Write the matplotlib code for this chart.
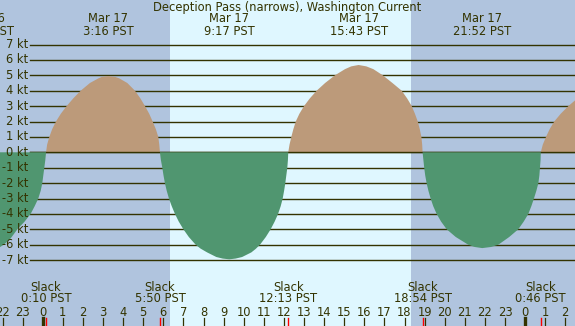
import numpy as np
import matplotlib
matplotlib.use('Agg')
import matplotlib.pyplot as plt

# hours from Mar 17 0:00 PST, current speed in knots (flood +, ebb -)
curve_t = [-3.2, -2.87, -2.5, -2.12, -1.93, -1.6, -1.23, -0.9, -0.6, -0.4, -0.22, -0.1, -0.02, 0.03, 0.08, 0.13, 0.167,
           0.22, 0.33, 0.47, 0.66, 0.9, 1.19, 1.52, 1.89, 2.35, 2.77, 2.95, 3.267, 3.6, 3.81, 4.21, 4.59,
           4.86, 5.09, 5.3, 5.47, 5.63, 5.75, 5.8, 5.833,
           5.88, 5.95, 6.01, 6.08, 6.17, 6.28, 6.42, 6.58, 6.77, 7.0, 7.27, 7.61, 7.85, 8.18, 8.64, 8.95,
           9.283, 9.6, 9.92, 10.38, 10.6, 10.81, 11.1, 11.34, 11.54, 11.71, 11.84, 11.94, 12.01, 12.07,
           12.12, 12.17, 12.2, 12.217,
           12.28, 12.37, 12.47, 12.59, 12.77, 13.0, 13.29, 13.63, 14.05, 14.54, 15.04, 15.35, 15.717,
           16.1, 16.45, 16.92, 17.4, 17.86, 18.13, 18.36, 18.52, 18.66, 18.76, 18.84, 18.88, 18.9,
           18.94, 18.98, 19.03, 19.1, 19.19, 19.3, 19.43, 19.6, 19.82, 20.1, 20.55, 21.17, 21.5, 21.867,
           22.3, 22.67, 23.21, 23.66, 23.93, 24.16, 24.31, 24.44, 24.56, 24.66, 24.71, 24.74, 24.77, 24.78,
           24.88, 25.04, 25.22, 25.45, 25.77, 26.15, 26.6, 27.0]
curve_kt = [-6.3, -6.35, -6.3, -6.15, -6.0, -5.6, -4.95, -4.5, -4.0, -3.5, -3.0, -2.5, -2.0, -1.5, -1.0, -0.5, 0.0,
            0.5, 1.0, 1.5, 2.0, 2.5, 3.0, 3.5, 4.0, 4.5, 4.8, 4.9, 4.95, 4.9, 4.8, 4.5, 4.0,
            3.5, 3.0, 2.5, 2.0, 1.5, 1.0, 0.5, 0.0,
            -0.5, -1.0, -1.5, -2.0, -2.5, -3.0, -3.5, -4.0, -4.5, -5.0, -5.5, -6.0, -6.25, -6.5, -6.8, -6.9,
            -6.95, -6.9, -6.8, -6.5, -6.27, -6.0, -5.5, -5.0, -4.5, -4.0, -3.5, -3.0, -2.5, -2.0,
            -1.5, -1.0, -0.5, 0.0,
            0.5, 1.0, 1.5, 2.0, 2.5, 3.0, 3.5, 4.0, 4.5, 5.0, 5.4, 5.58, 5.67,
            5.58, 5.4, 5.0, 4.5, 4.0, 3.5, 3.0, 2.5, 2.0, 1.5, 1.0, 0.5, 0.0,
            -0.5, -1.0, -1.5, -2.0, -2.5, -3.0, -3.5, -4.0, -4.5, -5.0, -5.5, -6.0, -6.15, -6.22,
            -6.15, -6.0, -5.5, -5.0, -4.5, -4.0, -3.5, -3.0, -2.5, -2.0, -1.5, -1.0, -0.5, 0.0,
            0.5, 1.0, 1.5, 2.0, 2.5, 3.0, 3.5, 3.85]

max_t = [-2.87, 3.267, 9.283, 15.717, 21.867]
max_date = ['Mar 16', 'Mar 17', 'Mar 17', 'Mar 17', 'Mar 17']
max_lbl = ['21:08 PST', '3:16 PST', '9:17 PST', '15:43 PST', '21:52 PST']

slack_t = [0.167, 5.833, 12.217, 18.9, 24.767]
slack_lbl = ['0:10 PST', '5:50 PST', '12:13 PST', '18:54 PST', '0:46 PST']

sunrise, sunset = 6.33, 18.32
kt_levels = list(range(7, -8, -1))
hours = list(range(-2, 27))

night = '#b0c4de'
day = '#dff7ff'
flood = '#bc9a7a'
ebb = '#509670'
ink = '#333300'
fs = 8.3

# pixel -> data helpers (x: 20.1 px per hour, 0h at px 42.7; y: 15.4 px per kt, 0 kt at px 152.3)
def px_x(p):
    return (p - 42.7) / 20.1

def px_y(p):
    return (152.3 - p) / 15.4

plt.rcParams['font.family'] = 'DejaVu Sans'
fig = plt.figure(figsize=(5.75, 3.26), dpi=100)
ax = fig.add_axes([0, 0, 1, 1])
ax.set_xlim(px_x(0), px_x(575))
ax.set_ylim(px_y(326), px_y(0))
ax.axis('off')
fig.patch.set_facecolor(night)

ax.axvspan(sunrise, sunset, color=day, lw=0, zorder=0)

x0 = px_x(30)
for k in kt_levels:
    ax.plot([x0, px_x(580)], [k, k], color=ink, lw=1.0, zorder=1)
    ax.text(px_x(28.5), k, f'{k} kt', ha='right', va='center', color=ink, fontsize=fs, zorder=6)

t = np.array(curve_t)
v = np.array(curve_kt)
ax.fill_between(t, 0, np.maximum(v, 0), color=flood, lw=0, zorder=2)
ax.plot([px_x(30), px_x(580)], [0, 0], color=ink, lw=1.0, zorder=2.5)
ax.fill_between(t, np.minimum(v, 0), 0, color=ebb, lw=0, zorder=3)

ax.text(px_x(287.5), px_y(7.3), 'Deception Pass (narrows), Washington Current',
        ha='center', va='center', color=ink, fontsize=fs)
for mt, md, ml in zip(max_t, max_date, max_lbl):
    ax.text(mt, px_y(19), md, ha='center', va='center', color=ink, fontsize=fs)
    ax.text(mt, px_y(31.7), ml, ha='center', va='center', color=ink, fontsize=fs)

for st, sl in zip(slack_t, slack_lbl):
    ax.text(st, px_y(287.3), 'Slack', ha='center', va='center', color=ink, fontsize=fs)
    ax.text(st, px_y(299), sl, ha='center', va='center', color=ink, fontsize=fs)
    ax.plot([st, st], [px_y(318.3), px_y(327)], color='red', lw=1.0, zorder=4)

for h in hours:
    ax.text(h, px_y(312.3), str(h % 24), ha='center', va='center', color=ink, fontsize=fs)
    lw = 2.4 if h % 24 == 0 else 0.9
    ax.plot([h, h], [px_y(318.3), px_y(327)], color=ink, lw=lw, zorder=4)

plt.savefig('out.png', dpi=100)
